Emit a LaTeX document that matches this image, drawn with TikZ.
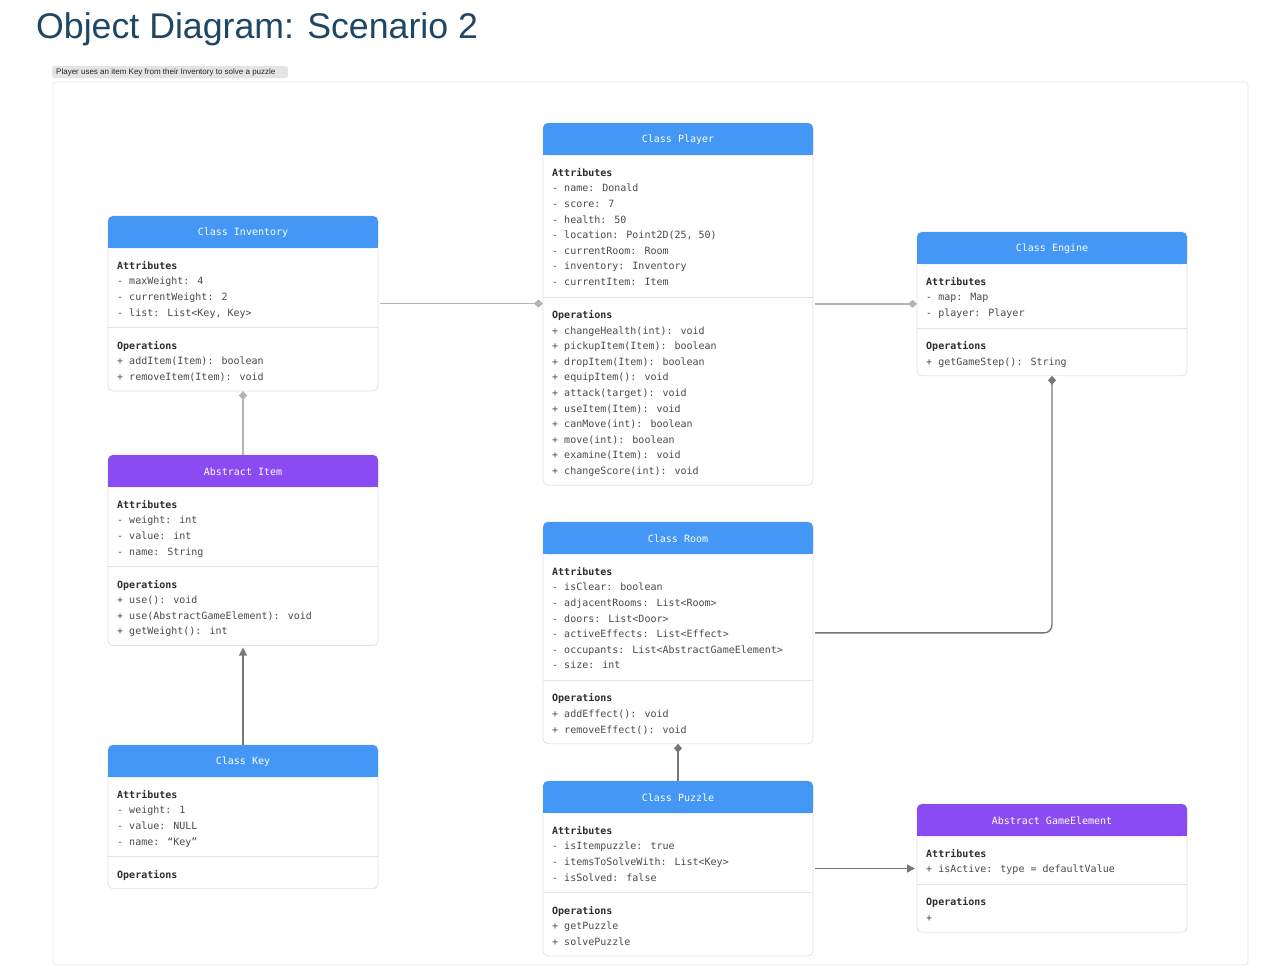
\documentclass[tikz,border=0pt]{standalone}
\usepackage{fontspec}
\setmainfont{Liberation Sans}
\newfontfamily\monof{DejaVu Sans Mono}
\usetikzlibrary{arrows.meta}
\definecolor{hblue}{HTML}{4597F6}
\definecolor{hpurple}{HTML}{8B4BF3}
\definecolor{bord}{HTML}{E2E2E2}
\definecolor{txt}{HTML}{4A4A4A}
\definecolor{txtb}{HTML}{2E2E2E}
\definecolor{titlec}{HTML}{1E4766}
\definecolor{lconn}{HTML}{B4B4B4}
\definecolor{dconn}{HTML}{777777}
\definecolor{tabfill}{HTML}{E4E4E4}
\definecolor{framec}{HTML}{E8E8E8}
\tikzset{
 boxframe/.style={draw=bord, fill=white, rounded corners=5pt, line width=0.8pt, minimum width=270pt, anchor=north west, inner sep=0pt, outer sep=0pt},
 hdrtext/.style={font=\monof\fontsize{10}{12}\selectfont, text=white, inner sep=0pt},
 linetext/.style={font=\monof\fontsize{10}{12}\selectfont, text=txt, anchor=west, inner sep=0pt, text height=7.5pt, text depth=2pt, yshift=-1.5pt},
 secttext/.style={linetext, font=\monof\bfseries\fontsize{10}{12}\selectfont, text=txtb},
 lightconn/.style={draw=lconn, line width=1.2pt},
 darkconn/.style={draw=dconn, line width=1.4pt},
}
\newcommand\umlclass[9]{%
 \pgfmathsetmacro\divy{#3+49+15.6*#6+16}%
 \pgfmathsetmacro\opsy{\divy+17}%
 \pgfmathsetmacro\boty{\opsy+15.6*#8+15}%
 \pgfmathsetmacro\hgt{\boty-#3}%
 \node[boxframe, minimum height=\hgt pt] (#1) at (#2,#3) {};
 \fill[#4, rounded corners=5pt] (#2,#3) rectangle ++(270,32);
 \fill[#4] (#2,#3+16) rectangle ++(270,16);
 \node[hdrtext] (#1-title) at (#2+135,#3+16.5) {#5};
 \node[secttext] (#1-attr) at (#2+9,#3+49) {Attributes};
 \foreach \l [count=\i] in {#7} {\node[linetext] (#1-a\i) at (#2+9,#3+49+15.6*\i) {\l};}
 \draw[bord, line width=0.8pt] (#2,\divy) -- ++(270,0);
 \node[secttext] (#1-ops) at (#2+9,\opsy) {Operations};
 \ifnum#8>0 \foreach \l [count=\i] in {#9} {\node[linetext] (#1-o\i) at (#2+9,\opsy+15.6*\i) {\l};}\fi
}
\begin{document}
\begin{tikzpicture}[x=1pt,y=-1pt]
\useasboundingbox (0,0) rectangle (1264,978);
\fill[white] (0,0) rectangle (1264,978);
% title
\node[anchor=base west, inner sep=0pt, text=titlec, font=\fontsize{35.7}{40}\selectfont] (title) at (36,38) {Object Diagram: Scenario 2};
% frame and tab
\draw[framec, line width=0.8pt, rounded corners=3pt] (53,82) rectangle (1248,965);
\fill[tabfill, rounded corners=2.5pt] (52,66) rectangle (288,78);
\node[anchor=west, inner sep=0pt, text=black!85, font=\fontsize{8}{9}\selectfont] (tab) at (56,72.5) {Player uses an item Key from their Inventory to solve a puzzle};

\umlclass{inv}{108}{216}{hblue}{Class Inventory}{3}{{- maxWeight: 4},{- currentWeight: 2},{- list: List<Key, Key>}}{2}{{+ addItem(Item): boolean},{+ removeItem(Item): void}}
\umlclass{pl}{543}{123}{hblue}{Class Player}{7}{{- name: Donald},{- score: 7},{- health: 50},{- location: Point2D(25, 50)},{- currentRoom: Room},{- inventory: Inventory},{- currentItem: Item}}{10}{{+ changeHealth(int): void},{+ pickupItem(Item): boolean},{+ dropItem(Item): boolean},{+ equipItem(): void},{+ attack(target): void},{+ useItem(Item): void},{+ canMove(int): boolean},{+ move(int): boolean},{+ examine(Item): void},{+ changeScore(int): void}}
\umlclass{eng}{917}{232}{hblue}{Class Engine}{2}{{- map: Map},{- player: Player}}{1}{{+ getGameStep(): String}}
\umlclass{item}{108}{455}{hpurple}{Abstract Item}{3}{{- weight: int},{- value: int},{- name: String}}{3}{{+ use(): void},{+ use(AbstractGameElement): void},{+ getWeight(): int}}
\umlclass{room}{543}{522}{hblue}{Class Room}{6}{{- isClear: boolean},{- adjacentRooms: List<Room>},{- doors: List<Door>},{- activeEffects: List<Effect>},{- occupants: List<AbstractGameElement>},{- size: int}}{2}{{+ addEffect(): void},{+ removeEffect(): void}}
\umlclass{key}{108}{745}{hblue}{Class Key}{3}{{- weight: 1},{- value: NULL},{- name: “Key”}}{0}{}
\umlclass{puz}{543}{781}{hblue}{Class Puzzle}{3}{{- isItempuzzle: true},{- itemsToSolveWith: List<Key>},{- isSolved: false}}{2}{{+ getPuzzle},{+ solvePuzzle}}
\umlclass{ge}{917}{804}{hpurple}{Abstract GameElement}{1}{{+ isActive: type = defaultValue}}{1}{{+}}

% connectors
\draw[lightconn, -{Diamond[length=9pt,width=8pt]}] ([xshift=2pt]inv.east) -- (pl.west |- inv.east);
\draw[lightconn, -{Diamond[length=9pt,width=8pt]}] ([xshift=2pt]pl.east |- eng.west) -- (eng.west);
\draw[lightconn, {Diamond[length=9pt,width=8pt]}-] (inv.south) -- (item.north);
\draw[darkconn, -{Triangle[length=8pt,width=8pt]}] (key.north) -- ([yshift=-2pt]item.south);
\draw[darkconn, -{Diamond[length=9pt,width=8pt]}, rounded corners=8pt] ([xshift=2pt]room.east) -| (eng.south);
\draw[darkconn, {Diamond[length=9pt,width=8pt]}-] (room.south) -- (puz.north);
\draw[darkconn, -{Triangle[length=8pt,width=8pt]}] ([xshift=2pt]puz.east) -- ([xshift=-2pt]ge.west |- puz.east);
\end{tikzpicture}
\end{document}
